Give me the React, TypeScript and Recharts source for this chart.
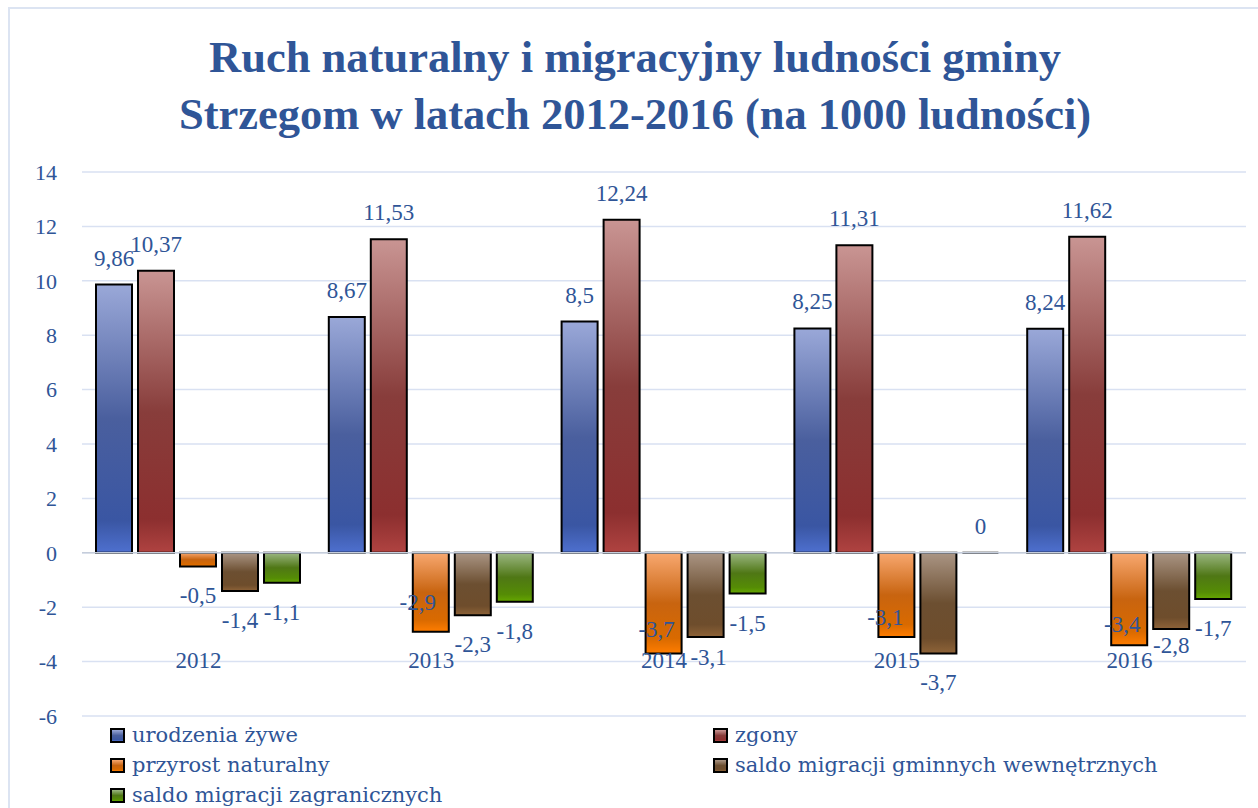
import { BarChart, Bar, XAxis, YAxis, CartesianGrid, ReferenceLine, LabelList } from 'recharts'

const years = ['2012', '2013', '2014', '2015', '2016']
const urodzenia = [9.86, 8.67, 8.5, 8.25, 8.24]
const zgony = [10.37, 11.53, 12.24, 11.31, 11.62]
const przyrost = [-0.5, -2.9, -3.7, -3.1, -3.4]
const saldoWew = [-1.4, -2.3, -3.1, -3.7, -2.8]
const saldoZagr = [-1.1, -1.8, -1.5, 0, -1.7]
const yTicks = [-6, -4, -2, 0, 2, 4, 6, 8, 10, 12, 14]

const TEXT = '#2F5597'
const FONT = '"Liberation Serif", "Times New Roman", serif'
const LEGEND_FONT = '"DejaVu Serif", serif'

type Series = {
  key: string
  name: string
  values: number[]
  stops: [number, string][]
  nudgeX: number[]
  nudgeY: number[]
}

const series: Series[] = [
  {
    key: 'urodzenia', name: 'urodzenia żywe', values: urodzenia,
    stops: [[0, '#9AA8D8'], [0.5, '#4A5F9E'], [0.88, '#3A56A3'], [1, '#4E70CF']],
    nudgeX: [0, 0, 0, 0, 0], nudgeY: [0, 0, 0, 0, 0],
  },
  {
    key: 'zgony', name: 'zgony', values: zgony,
    stops: [[0, '#C99593'], [0.5, '#883D3B'], [0.88, '#8C2F2F'], [1, '#B04341']],
    nudgeX: [0, 0, 0, 0, 0], nudgeY: [0, 0, 0, 0, 0],
  },
  {
    key: 'przyrost', name: 'przyrost naturalny', values: przyrost,
    stops: [[0, '#F8A870'], [0.5, '#C86410'], [0.85, '#D96A00'], [1, '#FF7D00']],
    nudgeX: [0, -13, -7, -11, -7], nudgeY: [0, -59, -53, -49, -50],
  },
  {
    key: 'saldoWew', name: 'saldo migracji gminnych wewnętrznych', values: saldoWew,
    stops: [[0, '#AA9584'], [0.5, '#6C4F31'], [0.85, '#6E4D2C'], [1, '#8E6338']],
    nudgeX: [0, 0, 3, 0, 0], nudgeY: [0, 0, -9, 0, -13],
  },
  {
    key: 'saldoZagr', name: 'saldo migracji zagranicznych', values: saldoZagr,
    stops: [[0, '#9CB783'], [0.5, '#4F7715'], [0.85, '#558C05'], [1, '#66A800']],
    nudgeX: [0, 0, 0, 0, 0], nudgeY: [0, 0, 0, 0, 0],
  },
]

const data = years.map((year, i) => {
  const row: Record<string, string | number> = { year }
  series.forEach((s) => { row[s.key] = s.values[i] })
  return row
})

const fmt = (v: number) => String(v).replace('.', ',')

function BarShape(props: any) {
  const { x, y, width, height, fill } = props
  const top = Math.min(y, y + height)
  const h = Math.abs(height)
  return <path d={`M${x},${top}h${width}v${h}h${-width}Z`} fill={fill} stroke="#000" strokeWidth={2} />
}

function makeLabel(s: Series) {
  return (p: any) => {
    const vb = p.viewBox || p
    const x = Number(vb.x), y = Number(vb.y), w = Number(vb.width), h = Number(vb.height)
    const v = Number(p.value)
    const i = p.index
    const top = Math.min(y, y + h)
    const bottom = Math.max(y, y + h)
    const bx = x + w / 2 + (s.nudgeX[i] || 0)
    const by = v >= 0 ? top - 19 : bottom + 37 + (s.nudgeY[i] || 0)
    return (
      <text x={bx} y={by} textAnchor="middle" fill={TEXT} fontFamily={FONT} fontSize={23}>
        {fmt(v)}
      </text>
    )
  }
}

function YearTick(props: any) {
  const { x, y, payload } = props
  return (
    <text x={x} y={y - 48} textAnchor="middle" fill={TEXT} fontFamily={FONT} fontSize={23}>
      {payload.value}
    </text>
  )
}

const gradCss = (s: Series) =>
  `linear-gradient(to bottom, ${s.stops.map(([o, c]) => `${c} ${o * 100}%`).join(', ')})`

export default function App() {
  const legendPos = [
    { left: 102, top: 0 },
    { left: 705, top: 0 },
    { left: 102, top: 30 },
    { left: 705, top: 30 },
    { left: 102, top: 60 },
  ]
  return (
    <div
      style={{
        position: 'fixed', left: 8, top: 7, width: 1250, height: 801, overflow: 'hidden',
        background: '#fff', fontFamily: FONT,
      }}
    >
      <div style={{ position: 'absolute', left: 0, top: 0, right: 0, bottom: 0, borderLeft: '2px solid #DCE4F2', borderTop: '2px solid #DCE4F2' }} />
      <div
        style={{
          position: 'absolute', left: 0, top: 22, width: 1254, textAlign: 'center',
          color: TEXT, fontWeight: 'bold', fontSize: 44.5, lineHeight: '57px',
        }}
      >
        Ruch naturalny i migracyjny ludności gminy
        <br />
        Strzegom w latach 2012-2016 (na 1000 ludności)
      </div>
      <div style={{ position: 'absolute', left: 0, top: 0 }}>
        <BarChart
          width={1250}
          height={800}
          data={data}
          margin={{ top: 165, right: 12, bottom: 61, left: 0 }}
          barCategoryGap={14}
          barGap={6}
        >
          <defs>
            {series.map((s) => (
              <linearGradient key={s.key} id={`g-${s.key}`} x1="0" y1="0" x2="0" y2="1">
                {s.stops.map(([o, c]) => (
                  <stop key={o} offset={o} stopColor={c} />
                ))}
              </linearGradient>
            ))}
          </defs>
          <CartesianGrid vertical={false} stroke="#D9E1F2" strokeWidth={1.5} />
          <XAxis
            dataKey="year"
            axisLine={false}
            tickLine={false}
            tickSize={0}
            tickMargin={0}
            height={30}
            tick={<YearTick />}
            interval={0}
          />
          <YAxis
            width={74}
            domain={[-6, 14]}
            ticks={yTicks}
            axisLine={false}
            tickLine={false}
            tickSize={0}
            tickMargin={25}
            tick={{ fill: TEXT, fontFamily: FONT, fontSize: 22 }}
          />
          <ReferenceLine y={0} stroke="#C5CDDB" strokeWidth={1.5} />
          {series.map((s) => (
            <Bar
              key={s.key}
              dataKey={s.key}
              name={s.name}
              fill={`url(#g-${s.key})`}
              shape={BarShape}
              isAnimationActive={false}
            >
              <LabelList dataKey={s.key} content={makeLabel(s)} />
            </Bar>
          ))}
        </BarChart>
      </div>
      <div style={{ position: 'absolute', left: 0, top: 713, width: 1250 }}>
        {series.map((s, i) => (
          <div
            key={s.key}
            style={{
              position: 'absolute', left: legendPos[i].left, top: legendPos[i].top, height: 30,
              lineHeight: '30px', fontSize: 21, fontFamily: LEGEND_FONT, color: TEXT, whiteSpace: 'nowrap',
            }}
          >
            <span
              style={{
                position: 'absolute', left: 0, top: 8, width: 11, height: 11,
                border: '2px solid #000', background: gradCss(s),
              }}
            />
            <span style={{ position: 'absolute', left: 22, top: 0 }}>{s.name}</span>
          </div>
        ))}
      </div>
    </div>
  )
}
